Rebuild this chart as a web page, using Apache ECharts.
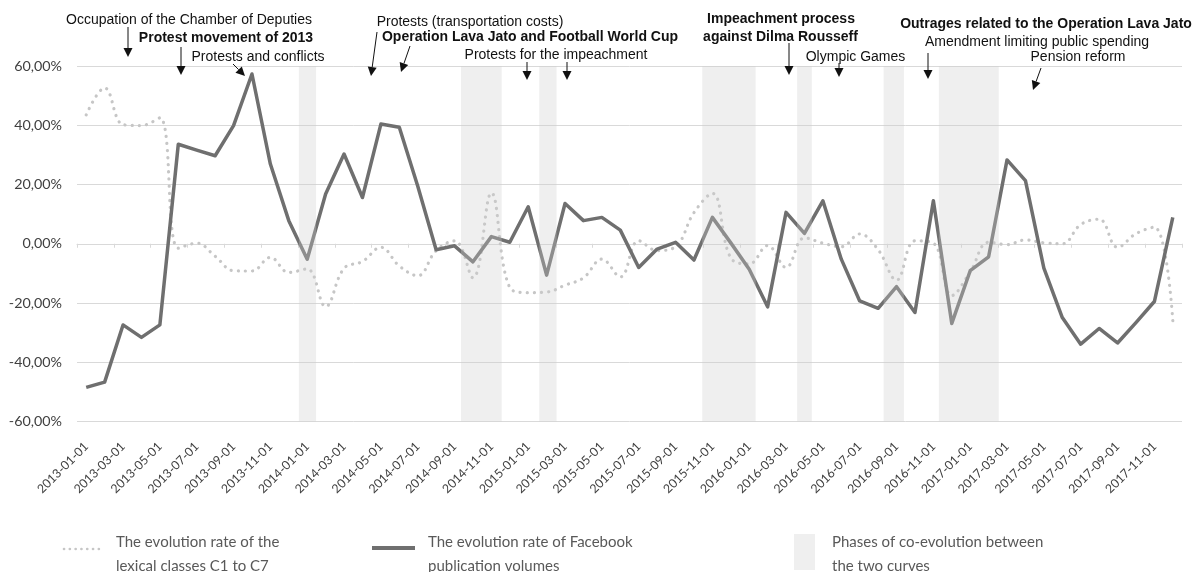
<!DOCTYPE html>
<html><head><meta charset="utf-8">
<script src="https://cdn.jsdelivr.net/npm/echarts@6/dist/echarts.min.js"></script>
<style>html,body{margin:0;padding:0;background:#fff}#c{width:1203px;height:572px}</style>
</head><body><div id="c"></div>
<script>
// ---- data ----
const months = [];
for (let y = 2013; y <= 2017; y++) for (let m = 1; m <= 12; m++) months.push(y + '-' + String(m).padStart(2, '0') + '-01');

const lexicalRates = [43.5, 52.6, 40.2, 39.9, 42.5, -1.5, 0.2, -4.2, -9.1, -9.2,
  -4.6, -9.7, -8.5, -21.2, -8.3, -6.0, -1.2, -7.5, -10.8, -2.3,
  1.0, -11.5, 17.2, -14.8, -16.5, -16.3, -14.0, -11.5, -5.2, -11.2,
  1.0, -2.3, -1.0, 10.5, 17.0, -4.8, -6.8, -0.6, -8.0, 2.0,
  0.2, -1.0, 3.3, -2.0, -12.3, 1.0, 0.2, -17.5, -9.5, 0.5,
  -0.3, 1.3, 0.3, 0.0, 6.5, 8.3, -1.2, 3.4, 5.6, -26.0];

const facebookRates = [-48.5, -46.7, -27.4, -31.6, -27.4, 33.6, 31.6, 29.7, 39.9, 57.3,
  26.9, 7.8, -5.2, 16.8, 30.3, 15.6, 40.4, 39.3, 19.5, -2.0,
  -0.7, -6.1, 2.4, 0.5, 12.5, -10.6, 13.6, 7.8, 8.9, 4.6,
  -8.0, -1.8, 0.5, -5.5, 8.9, 0.3, -8.6, -21.3, 10.6, 3.5,
  14.5, -5.2, -19.3, -21.8, -14.5, -23.2, 14.5, -26.9, -9.1, -4.4,
  28.3, 21.3, -8.2, -24.9, -33.9, -28.6, -33.5, -26.6, -19.5, 8.9];

// co-evolution phases, as [start, end] in month offsets from 2013-01
const coEvolutionPhases = [[12.05, 12.98], [20.85, 23.06], [25.1, 26.04], [33.95, 36.85],
  [39.1, 39.9], [43.8, 44.9], [46.8, 50.05]];

const yMin = -60, yMax = 60, yStep = 20;

const seriesNames = ['The evolution rate of the lexical classes C1 to C7',
  'The evolution rate of Facebook publication volumes',
  'Phases of co-evolution between the two curves'];

// ---- annotations (layout) ----
const F = '"Liberation Sans", Arial, sans-serif';
const notes = [
  ['Occupation of the Chamber of Deputies', 189, 20, false],
  ['Protest movement of 2013', 226, 38, true],
  ['Protests and conflicts', 258, 57, false],
  ['Protests (transportation costs)', 470, 22, false],
  ['Operation Lava Jato and Football World Cup', 530, 37.5, true],
  ['Protests for the impeachment', 556, 55, false],
  ['Impeachment process', 781, 19.5, true],
  ['against Dilma Rousseff', 780.5, 37, true],
  ['Olympic Games', 855.5, 57.5, false],
  ['Outrages related to the Operation Lava Jato', 1046, 24, true],
  ['Amendment limiting public spending', 1037, 42, false],
  ['Pension reform', 1078, 57.5, false]
];
const arrows = [
  [128, 27, 128, 57], [181, 47, 181, 75], [233, 64, 245, 76],
  [377, 32, 371, 76], [410, 46, 401, 72], [527, 62, 527, 80], [567, 62, 567, 80],
  [789, 43, 789, 75], [839, 63, 839, 77], [928, 53, 928, 79], [1041, 68, 1033, 90]
];

const graphics = [];
notes.forEach(n => graphics.push({
  type: 'text', x: n[1], y: n[2], z: 100,
  style: { text: n[0], font: (n[3] ? 'bold ' : '') + '14px ' + F, fill: '#111', align: 'center', verticalAlign: 'middle' }
}));
arrows.forEach(a => {
  const [x1, y1, x2, y2] = a;
  const dx = x2 - x1, dy = y2 - y1, L = Math.hypot(dx, dy);
  const ux = dx / L, uy = dy / L, hl = 9, hw = 4.5;
  const bx = x2 - ux * hl, by = y2 - uy * hl;
  graphics.push({ type: 'line', z: 100, shape: { x1, y1, x2: bx, y2: by }, style: { stroke: '#111', lineWidth: 1 } });
  graphics.push({ type: 'polygon', z: 100, shape: { points: [[x2, y2], [bx - uy * hw, by + ux * hw], [bx + uy * hw, by - ux * hw]] }, style: { fill: '#111' } });
});

// ---- legend (drawn) ----
const LF = '15px Lato, "Noto Sans", sans-serif';
graphics.push({ type: 'line', z: 100, shape: { x1: 64, y1: 549, x2: 102, y2: 549 }, style: { stroke: '#c6c6c6', lineWidth: 2.6, lineDash: [0.1, 5.7], lineCap: 'round' } });
graphics.push({ type: 'text', x: 116, y: 542, z: 100, style: { text: 'The evolution rate of the', font: LF, fill: '#595959', verticalAlign: 'middle' } });
graphics.push({ type: 'text', x: 116, y: 566, z: 100, style: { text: 'lexical classes C1 to C7', font: LF, fill: '#595959', verticalAlign: 'middle' } });
graphics.push({ type: 'line', z: 100, shape: { x1: 372, y1: 548, x2: 415, y2: 548 }, style: { stroke: '#6f6f6f', lineWidth: 4 } });
graphics.push({ type: 'text', x: 428, y: 542, z: 100, style: { text: 'The evolution rate of Facebook', font: LF, fill: '#595959', verticalAlign: 'middle' } });
graphics.push({ type: 'text', x: 428, y: 566, z: 100, style: { text: 'publication volumes', font: LF, fill: '#595959', verticalAlign: 'middle' } });
graphics.push({ type: 'rect', z: 100, shape: { x: 794, y: 534, width: 21, height: 36 }, style: { fill: '#efefef' } });
graphics.push({ type: 'text', x: 832, y: 542, z: 100, style: { text: 'Phases of co-evolution between', font: LF, fill: '#595959', verticalAlign: 'middle' } });
graphics.push({ type: 'text', x: 832, y: 566, z: 100, style: { text: 'the two curves', font: LF, fill: '#595959', verticalAlign: 'middle' } });

const chart = echarts.init(document.getElementById('c'), null, { renderer: 'canvas' });
chart.setOption({
  animation: false,
  backgroundColor: '#fff',
  grid: { left: 77, right: 21, top: 66, bottom: 150.5 },
  xAxis: [
    {
      type: 'category', data: months, boundaryGap: true, position: 'bottom',
      axisLine: { show: false, onZero: false }, axisTick: { show: false },
      axisLabel: { interval: 1, rotate: 45, margin: 23, fontFamily: 'Lato', fontSize: 12.3, color: '#404040' },
      splitLine: { show: false }
    },
    {
      type: 'category', data: months, boundaryGap: true, position: 'bottom',
      axisLine: { show: true, onZero: true, lineStyle: { color: '#d9d9d9', width: 1 } },
      axisTick: { show: true, interval: 1, length: 4, lineStyle: { color: '#d9d9d9' } },
      axisLabel: { show: false }, splitLine: { show: false }
    },
    { type: 'value', min: 0, max: months.length, position: 'top', show: false }
  ],
  yAxis: {
    type: 'value', min: yMin, max: yMax, interval: yStep,
    axisLine: { show: false }, axisTick: { show: false },
    axisLabel: { margin: 15, fontFamily: 'Lato', fontSize: 14.3, color: '#404040',
      formatter: v => v.toFixed(2).replace('.', ',') + '%' },
    splitLine: { lineStyle: { color: '#d9d9d9', width: 1 } }
  },
  series: [
    {
      name: seriesNames[0], type: 'line', data: lexicalRates, smooth: 0.4, showSymbol: false, z: 2,
      lineStyle: { color: '#c6c6c6', width: 3.2, type: [0.1, 7], cap: 'round' }
    },
    {
      name: seriesNames[1], type: 'line', data: facebookRates, showSymbol: false, z: 3,
      lineStyle: { color: '#6f6f6f', width: 3.5, join: 'round' }
    },
    {
      name: seriesNames[2], type: 'line', xAxisIndex: 2, data: [], z: 5, zlevel: 1,
      markArea: {
        z: 5, zlevel: 1, silent: true,
        itemStyle: { color: 'rgba(204,204,204,0.32)' },
        data: coEvolutionPhases.map(p => [{ xAxis: p[0] }, { xAxis: p[1] }])
      }
    }
  ],
  graphic: graphics
});
</script></body></html>
